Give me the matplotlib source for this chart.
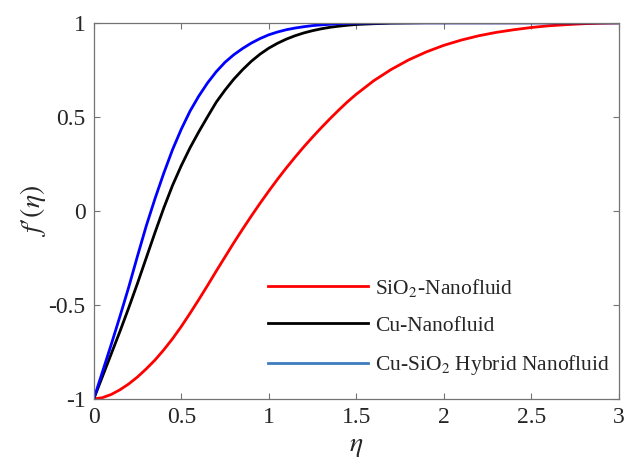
import matplotlib
matplotlib.use("Agg")
import matplotlib.pyplot as plt
from matplotlib.lines import Line2D

# eta grid and velocity profiles
eta = [0.0, 0.05, 0.1, 0.15, 0.2, 0.25, 0.3, 0.35, 0.4, 0.45,
       0.5, 0.55, 0.6, 0.65, 0.7, 0.75, 0.8, 0.85, 0.9, 0.95,
       1.0, 1.05, 1.1, 1.15, 1.2, 1.25, 1.3, 1.35, 1.4, 1.45,
       1.5, 1.6, 1.7, 1.8, 1.9, 2.0, 2.1, 2.2, 2.3, 2.4,
       2.5, 2.6, 2.7, 2.8, 2.9, 3.0]

f_sio2 = [-1.0, -0.993, -0.976, -0.951, -0.92, -0.883, -0.84, -0.793, -0.739, -0.68,
          -0.615, -0.545, -0.472, -0.397, -0.32, -0.245, -0.17, -0.098, -0.028, 0.04,
          0.105, 0.168, 0.228, 0.285, 0.34, 0.392, 0.442, 0.49, 0.536, 0.58,
          0.62, 0.692, 0.752, 0.803, 0.845, 0.88, 0.908, 0.931, 0.949, 0.963,
          0.975, 0.984, 0.99, 0.995, 0.998, 1.0]

f_cu = [-1.0, -0.88, -0.76, -0.64, -0.515, -0.385, -0.25, -0.115, 0.015, 0.135,
        0.24, 0.335, 0.42, 0.50, 0.578, 0.642, 0.70, 0.75, 0.795, 0.833,
        0.865, 0.891, 0.913, 0.931, 0.946, 0.958, 0.968, 0.976, 0.982, 0.987,
        0.991, 0.995, 0.998, 0.999, 1.0, 1.0, 1.0, 1.0, 1.0, 1.0,
        1.0, 1.0, 1.0, 1.0, 1.0, 1.0]

f_hybrid = [-1.0, -0.855, -0.71, -0.56, -0.405, -0.24, -0.08, 0.065, 0.20, 0.325,
            0.434, 0.53, 0.61, 0.68, 0.74, 0.79, 0.83, 0.863, 0.892, 0.916,
            0.936, 0.951, 0.963, 0.972, 0.979, 0.985, 0.989, 0.992, 0.995, 0.997,
            0.998, 0.999, 1.0, 1.0, 1.0, 1.0, 1.0, 1.0, 1.0, 1.0,
            1.0, 1.0, 1.0, 1.0, 1.0, 1.0]

labels = ["SiO$_2$-Nanofluid", "Cu-Nanofluid", "Cu-SiO$_2$ Hybrid Nanofluid"]
xticks = [0, 0.5, 1, 1.5, 2, 2.5, 3]
xticklabels = ["0", "0.5", "1", "1.5", "2", "2.5", "3"]
yticks = [-1, -0.5, 0, 0.5, 1]
yticklabels = ["-1", "-0.5", "0", "0.5", "1"]

plt.rcParams["font.family"] = "Liberation Serif"
plt.rcParams["mathtext.fontset"] = "stix"

fig = plt.figure(figsize=(6.25, 4.65), dpi=100)
ax = fig.add_axes([0.150, 0.142, 0.840, 0.809])

ax.plot(eta, f_sio2, color="#ff0000", lw=2, solid_joinstyle="round")
ax.plot(eta, f_cu, color="black", lw=2, solid_joinstyle="round")
ax.plot(eta, f_hybrid, color="#0000ff", lw=2, solid_joinstyle="round")

ax.set_xlim(0, 3)
ax.set_ylim(-1, 1)
ax.set_xticks(xticks)
ax.set_xticklabels(xticklabels)
ax.set_yticks(yticks)
ax.set_yticklabels(yticklabels)
ax.tick_params(direction="in", top=True, right=True, length=4, width=0.8,
               color="0.45", labelsize=17, labelcolor="#262626", pad=6)
for s in ax.spines.values():
    s.set_color("0.45")
    s.set_linewidth(0.9)

ax.set_xlabel(r"$\eta$", fontsize=20, color="#262626", labelpad=4)
ax.set_ylabel(r"$f\prime(\eta)$", fontsize=20, color="#262626", labelpad=0)

# legend handles (last one uses the lighter blue seen in the reference)
handles = [Line2D([], [], color="#ff0000", lw=2),
           Line2D([], [], color="black", lw=2),
           Line2D([], [], color="#3c7dc0", lw=2)]
ax.legend(handles, labels, loc="upper left", bbox_to_anchor=(0.331, 0.325),
          frameon=False, fontsize=15.5, handlelength=4.65, handletextpad=0.35,
          labelspacing=0.8, borderpad=0, borderaxespad=0, labelcolor="#262626")

fig.savefig("out.png", dpi=100)
